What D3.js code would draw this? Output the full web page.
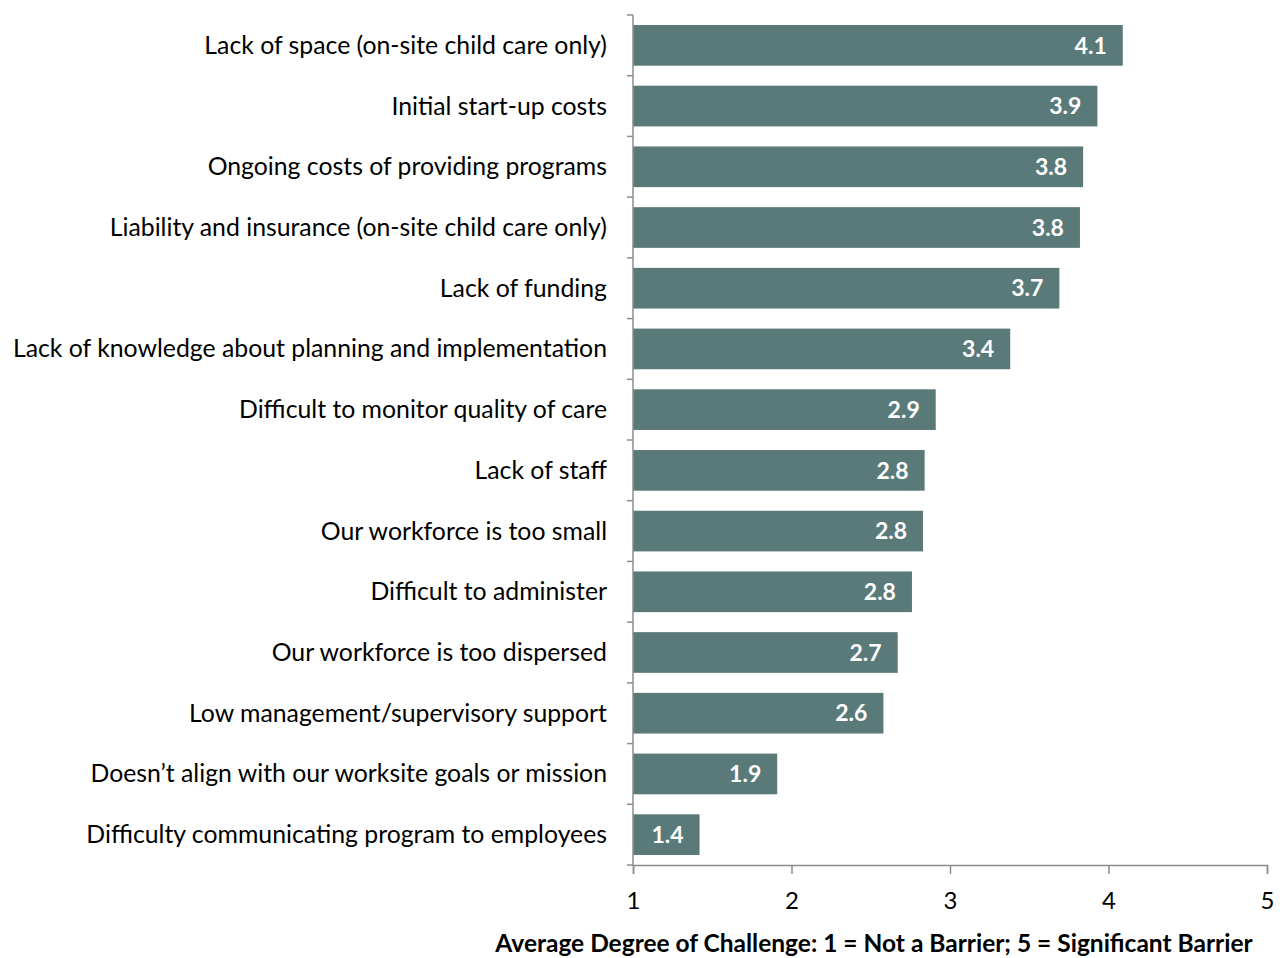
<!DOCTYPE html>
<html>
<head>
<meta charset="utf-8">
<script src="https://cdn.jsdelivr.net/npm/d3@7"></script>
<style>
  html, body { margin: 0; padding: 0; background: #fff; }
  svg { display: block; font-family: Lato, "Open Sans", sans-serif; }
</style>
</head>
<body>
<svg id="chart" width="1282" height="958"></svg>
<script>
// Barriers to offering child care programs, average rating per item
const categories = [
  "Lack of space (on-site child care only)",
  "Initial start-up costs",
  "Ongoing costs of providing programs",
  "Liability and insurance (on-site child care only)",
  "Lack of funding",
  "Lack of knowledge about planning and implementation",
  "Difficult to monitor quality of care",
  "Lack of staff",
  "Our workforce is too small",
  "Difficult to administer",
  "Our workforce is too dispersed",
  "Low management/supervisory support",
  "Doesn\u2019t align with our worksite goals or mission",
  "Difficulty communicating program to employees"
];
const values = [4.09, 3.93, 3.84, 3.82, 3.69, 3.38, 2.91, 2.84, 2.83, 2.76, 2.67, 2.58, 1.91, 1.42];
const xTicks = [1, 2, 3, 4, 5];
const axisTitle = "Average Degree of Challenge: 1 = Not a Barrier; 5 = Significant Barrier";

const svg = d3.select("#chart");
const margin = { top: 15, right: 15, bottom: 93, left: 633 };
const width = 1282 - margin.left - margin.right;
const height = 958 - margin.top - margin.bottom;

const x = d3.scaleLinear().domain([1, 5]).range([0, width]);
const y = d3.scaleBand().domain(categories).range([0, height]).paddingInner(0.33).paddingOuter(0.165);

const g = svg.append("g").attr("transform", `translate(${margin.left},${margin.top})`);

// bars
g.selectAll("rect.bar")
  .data(categories)
  .join("rect")
  .attr("class", "bar")
  .attr("x", x(1))
  .attr("y", d => y(d))
  .attr("width", (d, i) => x(values[i]) - x(1))
  .attr("height", y.bandwidth())
  .attr("fill", "#5a7a79");

// value labels inside bar ends
g.selectAll("text.val")
  .data(categories)
  .join("text")
  .attr("class", "val")
  .attr("x", (d, i) => x(values[i]) - 16)
  .attr("y", d => y(d) + y.bandwidth() / 2)
  .attr("dy", "0.36em")
  .attr("text-anchor", "end")
  .attr("fill", "#fff")
  .attr("font-weight", "bold")
  .attr("font-size", 23)
  .text((d, i) => values[i].toFixed(1));

// left axis: line with tick marks at category boundaries
const axisColor = "#8c8c8c";
g.append("line")
  .attr("x1", 0).attr("x2", 0).attr("y1", 0).attr("y2", height)
  .attr("stroke", axisColor).attr("stroke-width", 1.5);
const boundaries = d3.range(categories.length + 1).map(i => i * height / categories.length);
g.selectAll("line.btick")
  .data(boundaries)
  .join("line")
  .attr("class", "btick")
  .attr("x1", -6).attr("x2", 0)
  .attr("y1", d => d).attr("y2", d => d)
  .attr("stroke", axisColor).attr("stroke-width", 1.5);

// category labels
g.selectAll("text.cat")
  .data(categories)
  .join("text")
  .attr("class", "cat")
  .attr("x", -26)
  .attr("y", d => y(d) + y.bandwidth() / 2)
  .attr("dy", "0.34em")
  .attr("text-anchor", "end")
  .attr("fill", "#000")
  .attr("font-size", 24.8)
  .text(d => d);

// bottom axis
const xAxis = g.append("g")
  .attr("transform", `translate(0,${height})`)
  .call(d3.axisBottom(x).tickValues(xTicks).tickFormat(d3.format("d")).tickSize(9).tickPadding(18));
xAxis.select(".domain").attr("stroke", axisColor).attr("stroke-width", 1.5);
xAxis.selectAll(".tick line").attr("stroke", axisColor).attr("stroke-width", 1.5);
xAxis.selectAll(".tick text")
  .attr("font-family", "Lato, 'Open Sans', sans-serif")
  .attr("font-size", 24)
  .attr("fill", "#000");

// axis title
svg.append("text")
  .attr("x", 874)
  .attr("y", 952)
  .attr("text-anchor", "middle")
  .attr("font-weight", "bold")
  .attr("font-size", 24.5)
  .attr("fill", "#000")
  .text(axisTitle);
</script>
</body>
</html>
